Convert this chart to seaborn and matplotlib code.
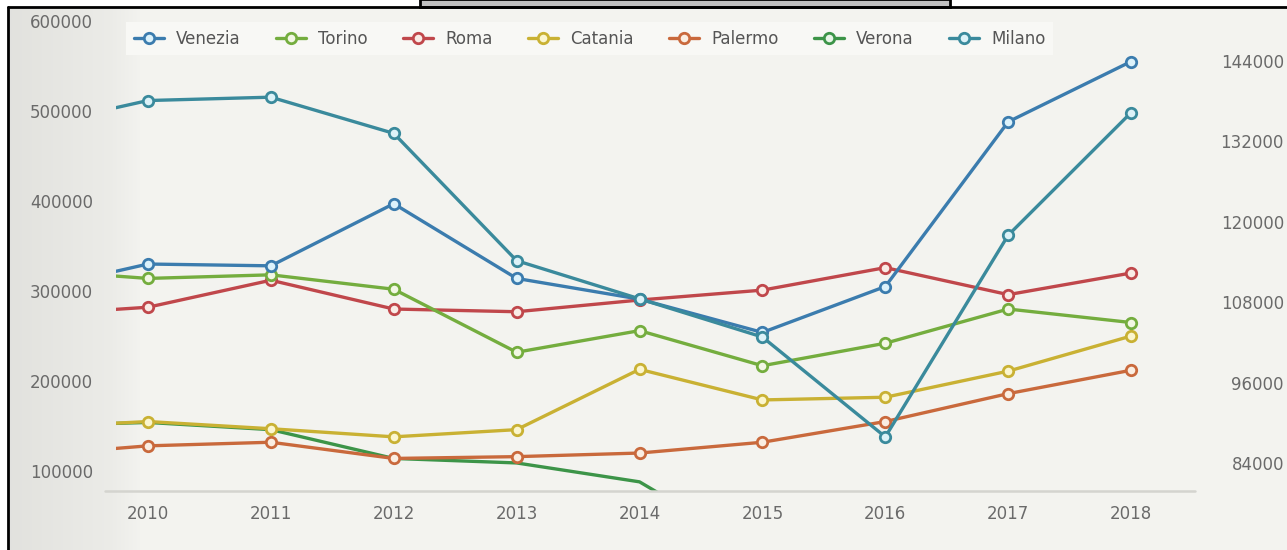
import numpy as np
import matplotlib
matplotlib.use("Agg")
import matplotlib.pyplot as plt
from matplotlib.lines import Line2D
from matplotlib.patches import Rectangle
import seaborn as sns

# Yearly values per city (left axis), Milano on the right axis
years = [2009, 2010, 2011, 2012, 2013, 2014, 2015, 2016, 2017, 2018]
venezia = [299000, 330000, 328000, 397000, 314000, 291000, 254000, 305000, 488000, 555000]
torino = [324000, 314000, 318000, 302000, 232000, 256000, 217000, 242000, 280000, 265000]
roma = [273000, 282000, 312000, 280000, 277000, 290000, 301000, 326000, 296000, 320000]
catania = [148000, 155000, 147000, 138000, 146000, 213000, 179000, 182000, 211000, 250000]
palermo = [117000, 128000, 132000, 114000, 116000, 120000, 132000, 155000, 186000, 212000]
verona = [150000, 154000, 146000, 114000, 109000, 88000, 7500, np.nan, np.nan, np.nan]
milano = [134000, 138100, 138600, 133200, 114200, 108500, 102800, 87900, 118000, 136300]

tick_years = [2010, 2011, 2012, 2013, 2014, 2015, 2016, 2017, 2018]
left_ticks = [100000, 200000, 300000, 400000, 500000, 600000]
right_ticks = [84000, 96000, 108000, 120000, 132000, 144000]

legend_order = ["Venezia", "Torino", "Roma", "Catania", "Palermo", "Verona", "Milano"]

style = {
    "Venezia": dict(color="#3b7cae", face="#dcf2fb"),
    "Torino": dict(color="#74ad3e", face="#f2f7e4"),
    "Roma": dict(color="#c0474b", face="#f9ece6"),
    "Catania": dict(color="#c9b133", face="#fbf6cf"),
    "Palermo": dict(color="#c9693c", face="#faeee2"),
    "Verona": dict(color="#3c9448", face="#e8f5e8"),
    "Milano": dict(color="#3a8a9c", face="#dcf2f8"),
}

sns.set_theme(style="white")
plt.rcParams["font.family"] = ["DejaVu Sans"]

W, H = 1287, 550
fig = plt.figure(figsize=(W / 100, H / 100), dpi=100, facecolor="white")

# soft panel backdrop, a little darker towards the left edge
bg = fig.add_axes([8 / W, 0, 1 - 8 / W, 1 - 8 / H], zorder=-10)
xs = np.arange(W - 8) + 8
c_left = np.array([0.885, 0.885, 0.870])
c_mid = np.array([0.925, 0.925, 0.910])
c_in = np.array([0.953, 0.953, 0.938])
row = np.empty((len(xs), 3))
for i, x in enumerate(xs):
    if x < 112:
        t = (x - 8) / 104
        row[i] = c_left + (c_mid - c_left) * t
    elif x < 140:
        t = (x - 112) / 28
        row[i] = c_mid + (c_in - c_mid) * t
    else:
        row[i] = c_in
bg.imshow(row[np.newaxis, :, :], aspect="auto", extent=(0, 1, 0, 1))
bg.set_axis_off()

# frame lines and the header box above the panel
fig.add_artist(Line2D([8 / W, 1], [1 - 7 / H, 1 - 7 / H], transform=fig.transFigure,
                      color="black", lw=2))
fig.add_artist(Line2D([8 / W, 8 / W], [0, 1 - 7 / H], transform=fig.transFigure,
                      color="black", lw=2))
fig.add_artist(Rectangle((420 / W, 1 - 7 / H), 530 / W, 8 / H, transform=fig.transFigure,
                         facecolor="#c0c0c0", edgecolor="black", lw=2))

ax = fig.add_axes([116 / W, 59 / H, (1195 - 116) / W, (491 - 21) / H])
ax.set_facecolor("none")
ax2 = ax.twinx()
ax2.set_facecolor("none")

LW = 2.4
MS = 7.5
MEW = 2


def draw(axis, name, values, markers=True):
    st = style[name]
    kw = dict(color=st["color"], lw=LW)
    if markers:
        kw.update(marker="o", markersize=MS, markerfacecolor=st["face"],
                  markeredgecolor=st["color"], markeredgewidth=MEW)
    sns.lineplot(x=years, y=values, ax=axis, **kw)


draw(ax, "Verona", verona, markers=False)
draw(ax, "Palermo", palermo)
draw(ax, "Catania", catania)
draw(ax, "Roma", roma)
draw(ax, "Torino", torino)
draw(ax, "Venezia", venezia)
draw(ax2, "Milano", milano)

ax.set_xlim(2009.74, 2018.52)
ax.set_ylim(77830, 600000)
ax2.set_ylim(79820, 149970)

ax.set_xticks(tick_years)
ax.set_xticklabels([str(y) for y in tick_years])
ax.set_yticks(left_ticks)
ax.set_yticklabels([str(v) for v in left_ticks])
ax2.set_yticks(right_ticks)
ax2.set_yticklabels([str(v) for v in right_ticks])

for a in (ax, ax2):
    for s in a.spines.values():
        s.set_visible(False)
    a.grid(False)
    a.set_xlabel("")
    a.set_ylabel("")

tick_color = "#6a6a6a"
ax.tick_params(axis="x", length=0, pad=10, labelsize=12, labelcolor=tick_color)
ax.tick_params(axis="y", length=0, pad=16.5, labelsize=12, labelcolor=tick_color)
ax2.tick_params(axis="y", length=0, pad=64.0, labelsize=12, labelcolor=tick_color)
for lab in ax2.get_yticklabels():
    lab.set_horizontalalignment("right")

# baseline under the plot
fig.add_artist(Line2D([105 / W, 1195 / W], [59 / H, 59 / H], transform=fig.transFigure,
                      color="#d4d4cf", lw=1.8))

handles = []
for name in legend_order:
    st = style[name]
    handles.append(Line2D([0], [0], color=st["color"], lw=LW, marker="o", markersize=MS,
                          markerfacecolor=st["face"], markeredgecolor=st["color"],
                          markeredgewidth=MEW))
leg = ax2.legend(handles, legend_order, ncol=7, loc="upper left",
                 bbox_to_anchor=(126 / W, 1 - 22 / H), bbox_transform=fig.transFigure,
                 frameon=True, fancybox=False, framealpha=1, facecolor="#f8f8f5",
                 edgecolor="none", fontsize=12, handlelength=1.8, handletextpad=0.75,
                 columnspacing=2.1, borderpad=0.45, borderaxespad=0)
for t in leg.get_texts():
    t.set_color("#555555")

fig.savefig("out.png", dpi=100, facecolor="white")
